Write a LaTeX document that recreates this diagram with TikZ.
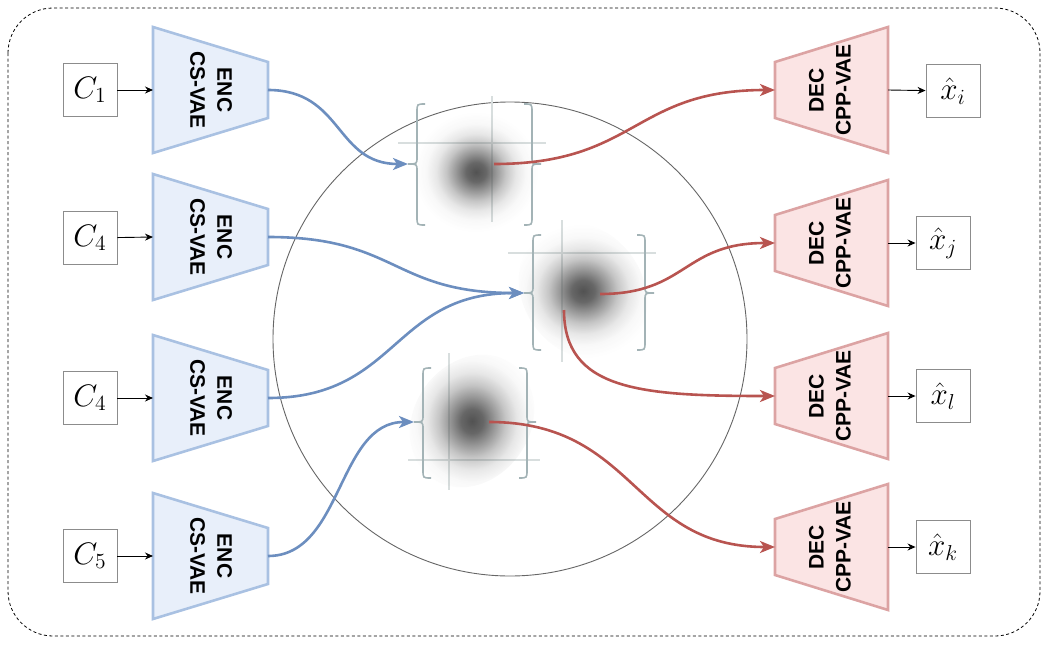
\documentclass[tikz,border=0pt]{standalone}
\usepackage{fontspec}
\usepackage{graphicx}
\newfontfamily\lsans{Liberation Sans}
\usetikzlibrary{arrows.meta,fadings}
\definecolor{encfill}{HTML}{E8EFFA}
\definecolor{encdraw}{HTML}{A9C1E2}
\definecolor{decfill}{HTML}{FBE4E4}
\definecolor{decdraw}{HTML}{DCA3A3}
\definecolor{blueline}{HTML}{6C8EBF}
\definecolor{redline}{HTML}{B85450}
\definecolor{bracecol}{HTML}{A3B3B6}
\definecolor{crosscol}{HTML}{D8DEDE}
\pgfdeclareradialshading{gaussfadeshade}{\pgfpointorigin}{color(0bp)=(white); color(4bp)=(white!88!black); color(8bp)=(white!60!black); color(12bp)=(white!33!black); color(16bp)=(white!14!black); color(20bp)=(white!4!black); color(25bp)=(black); color(50bp)=(black)}
\pgfdeclarefading{gaussfade}{\pgfuseshading{gaussfadeshade}}
\newcommand{\bracepair}[5]{%
  \draw[bracestyle] (#1+8,#3) .. controls (#1,#3) .. (#1,#3+8) -- (#1,#5-7) .. controls (#1,#5) .. (#1-9,#5) .. controls (#1,#5) .. (#1,#5+7) -- (#1,#4-8) .. controls (#1,#4) .. (#1+8,#4);
  \draw[bracestyle] (#2-8,#3) .. controls (#2,#3) .. (#2,#3+8) -- (#2,#5-7) .. controls (#2,#5) .. (#2+9,#5) .. controls (#2,#5) .. (#2,#5+7) -- (#2,#4-8) .. controls (#2,#4) .. (#2-8,#4);
}
\newcommand{\biglabel}[1]{\scalebox{1.5}{$#1$}}
\begin{document}
\begin{tikzpicture}[x=1pt,y=-1pt,
  encshape/.style={fill=encfill,draw=encdraw,line width=2.6pt,line join=miter},
  decshape/.style={fill=decfill,draw=decdraw,line width=2.6pt,line join=miter},
  vaetext/.style={font=\lsans\bfseries\fontsize{21}{27}\selectfont,align=center,inner sep=0pt},
  iobox/.style={draw=black!45,line width=0.9pt,minimum width=54pt,minimum height=53pt,inner sep=0pt,font=\fontsize{20.74}{25}\selectfont},
  thinarrow/.style={-{Stealth[length=8pt,width=7pt]},line width=0.9pt},
  bluearrow/.style={-{Stealth[length=15pt,width=12pt,inset=4pt]},draw=blueline,line width=2.6pt},
  redarrow/.style={-{Stealth[length=15pt,width=12pt,inset=4pt]},draw=redline,line width=2.6pt},
  bracestyle/.style={draw=bracecol,line width=1.6pt},
  crossline/.style={draw=crosscol,line width=1.3pt},
  blob/.style={fill=black!68,path fading=gaussfade}
]
\useasboundingbox (0,0) rectangle (1049,645);
\draw[line width=0.8pt,dash pattern=on 3pt off 2.5pt,rounded corners=45pt] (8,8) rectangle (1040,636);
\draw[black!60,line width=0.9pt] (510,339) circle (237);

% panel 1
\draw[crossline] (398,143) -- (546,143);
\draw[crossline] (492,96) -- (492,222);
\fill[blob] (476,172) ellipse (62 and 60);
\bracepair{417}{532}{104}{225}{164}
% panel 2
\draw[crossline] (508,253) -- (656,253);
\draw[crossline] (562,220) -- (562,362);
\fill[blob,rotate around={35:(583,291)}] (583,291) ellipse (60 and 72);
\bracepair{533}{645}{235}{350}{293}
% panel 3
\draw[crossline] (408,460) -- (540,460);
\draw[crossline] (449,353) -- (449,490);
\fill[blob,rotate around={-35:(472,421)}] (472,421) ellipse (58 and 70);
\bracepair{423}{527}{368}{478}{422}

\coordinate (p1l) at (408,164);
\coordinate (p2l) at (524,293);
\coordinate (p3l) at (414,422);
\coordinate (p1s) at (494,164);
\coordinate (p2s) at (600,294);
\coordinate (p2d) at (564,310);
\coordinate (p3s) at (489,422);

% encoders
\foreach \c/\n in {90/1,237/2,398/3,556/4}{
  \draw[encshape] (153,\c-63) -- (268,\c-28) -- (268,\c+28) -- (153,\c+63) -- cycle;
  \node[vaetext,rotate=-90] (enc\n) at (211,\c) {ENC\\CS-VAE};
  \coordinate (e\n in) at (153,\c);
  \coordinate (e\n out) at (268,\c);
}
% decoders
\foreach \c/\n in {90/1,243/2,396/3,547/4}{
  \draw[decshape] (775,\c-28) -- (888,\c-63) -- (888,\c+63) -- (775,\c+28) -- cycle;
  \node[vaetext,rotate=90] (dec\n) at (830,\c) {DEC\\CPP-VAE};
  \coordinate (d\n in) at (775,\c);
  \coordinate (d\n out) at (888,\c);
}

% inputs
\node[iobox] (c1) at (90,90) {\biglabel{C_1}};
\node[iobox] (c2) at (90,238) {\biglabel{C_4}};
\node[iobox] (c3) at (90,398) {\biglabel{C_4}};
\node[iobox] (c4) at (90,556) {\biglabel{C_5}};
% outputs
\node[iobox] (x1) at (953,91) {\biglabel{\hat{x}_i}};
\node[iobox] (x2) at (943,243) {\biglabel{\hat{x}_j}};
\node[iobox] (x3) at (943,396) {\biglabel{\hat{x}_l}};
\node[iobox] (x4) at (943,547) {\biglabel{\hat{x}_k}};

\foreach \n in {1,2,3,4}{
  \draw[thinarrow] (c\n) -- (e\n in);
  \draw[thinarrow] (d\n out) -- (x\n);
}

% blue connectors
\draw[bluearrow] (e1out) .. controls (343,90) and (335,164) .. (p1l);
\draw[bluearrow] (e2out) .. controls (398,237) and (392,293) .. (p2l);
\draw[bluearrow] (e3out) .. controls (398,398) and (392,293) .. (p2l);
\draw[bluearrow] (e4out) .. controls (343,556) and (337,422) .. (p3l);
% red connectors
\draw[redarrow] (p1s) .. controls (637,164) and (633,90) .. (d1in);
\draw[redarrow] (p2s) .. controls (687,294) and (683,243) .. (d2in);
\draw[redarrow] (p2d) .. controls (564,390) and (640,396) .. (d3in);
\draw[redarrow] (p3s) .. controls (637,422) and (633,547) .. (d4in);
\end{tikzpicture}
\end{document}
